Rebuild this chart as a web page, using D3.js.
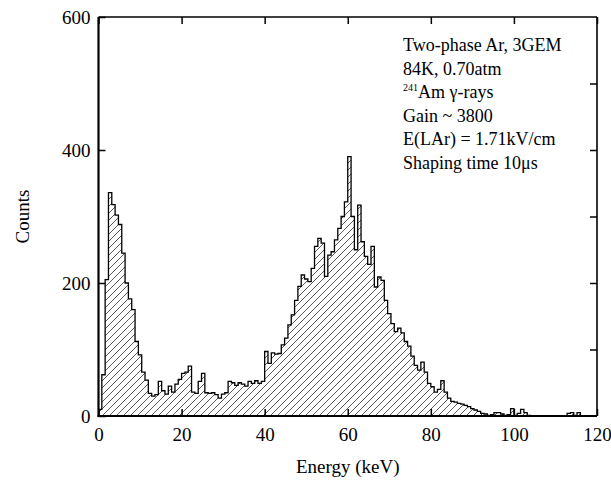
<!DOCTYPE html>
<html>
<head>
<meta charset="utf-8">
<script src="https://cdn.jsdelivr.net/npm/d3@7"></script>
<style>
  html, body { margin: 0; padding: 0; background: #fff; }
  svg { display: block; }
  text { font-family: "Liberation Serif", "DejaVu Serif", serif; fill: #000; }
</style>
</head>
<body>
<svg id="chart" width="611" height="480"></svg>
<script>
// Energy spectrum: counts per 0.8 keV bin, starting at 0 keV
const binStart = 0;
const binWidth = 0.8;
const counts = [
  10, 62, 205, 336, 318, 302, 288, 245, 200, 176,
  160, 112, 92, 66, 54, 34, 30, 32, 52, 38,
  33, 45, 36, 48, 55, 64, 66, 75, 36, 34,
  52, 64, 35, 34, 35, 32, 27, 33, 35, 52,
  50, 46, 50, 48, 45, 52, 49, 53, 49, 52,
  97, 79, 95, 93, 94, 107, 117, 137, 152, 174,
  195, 212, 206, 202, 222, 255, 267, 260, 210, 242,
  247, 265, 282, 300, 322, 390, 300, 250, 317, 262,
  240, 228, 255, 194, 209, 204, 174, 154, 139, 127,
  132, 125, 112, 105, 90, 76, 69, 81, 66, 49,
  44, 36, 40, 53, 36, 27, 22, 21, 19, 18,
  16, 14, 11, 9, 7, 4, 3, 1, 2, 5,
  5, 3, 1, 2, 11, 1, 4, 10, 5, 1,
  0, 0, 0, 0, 0, 0, 0, 0, 0, 0,
  0, 4, 5, 1, 5, 0, 0, 0, 0, 0
];

const xTicks = [0, 20, 40, 60, 80, 100, 120];
const yTicks = [0, 200, 400, 600];
const yRightTicks = [100, 200, 300, 400, 500];

const xLabel = "Energy (keV)";
const yLabel = "Counts";

const noteLines = [
  "Two-phase Ar, 3GEM",
  "84K, 0.70atm",
  "Am \u03b3-rays",
  "Gain ~ 3800",
  "E(LAr) = 1.71kV/cm",
  "Shaping time 10\u03bcs"
];
const isotopeMass = "241";

(function draw() {
  const svg = d3.select("#chart");
  const pL = 98.5, pR = 597, pT = 17, pB = 416;

  const x = d3.scaleLinear().domain([0, 120]).range([pL, pR]);
  const y = d3.scaleLinear().domain([0, 600]).range([pB, pT]);

  // diagonal hatch fill
  const defs = svg.append("defs");
  const pat = defs.append("pattern")
    .attr("id", "hatch")
    .attr("patternUnits", "userSpaceOnUse")
    .attr("width", 7).attr("height", 7);
  pat.append("path")
    .attr("d", "M-1,1 L1,-1 M0,7 L7,0 M6,8 L8,6")
    .attr("stroke", "#333").attr("stroke-width", 0.8);

  // step points at the left edge of every bin plus the closing edge
  const steps = counts.map((c, i) => [binStart + i * binWidth, c]);
  steps.push([binStart + counts.length * binWidth, counts[counts.length - 1]]);

  const area = d3.area()
    .x(d => x(d[0])).y0(y(0)).y1(d => y(d[1]))
    .curve(d3.curveStepAfter);
  const line = d3.line()
    .x(d => x(d[0])).y(d => y(d[1]))
    .curve(d3.curveStepAfter);

  svg.append("path").datum(steps)
    .attr("d", area)
    .attr("fill", "url(#hatch)");
  svg.append("path").datum(steps)
    .attr("d", line)
    .attr("fill", "none")
    .attr("stroke", "#000")
    .attr("stroke-width", 1.3);

  // axes with inward ticks
  const fontSize = 19;
  const gx = svg.append("g").attr("transform", `translate(0,${pB})`)
    .call(d3.axisBottom(x).tickValues(xTicks).tickSizeInner(-7).tickSizeOuter(0).tickPadding(11.5));
  const gy = svg.append("g").attr("transform", `translate(${pL},0)`)
    .call(d3.axisLeft(y).tickValues(yTicks).tickSizeInner(-7).tickSizeOuter(0).tickPadding(8));
  const gt = svg.append("g").attr("transform", `translate(0,${pT})`)
    .call(d3.axisTop(x).tickValues(xTicks).tickSizeInner(-7).tickSizeOuter(0).tickFormat(""));
  const gr = svg.append("g").attr("transform", `translate(${pR},0)`)
    .call(d3.axisRight(y).tickValues(yRightTicks).tickSizeInner(-7).tickSizeOuter(0).tickFormat(""));

  [gx, gy, gt, gr].forEach(g => {
    g.select(".domain").remove();
    g.selectAll(".tick line").attr("stroke", "#000").attr("stroke-width", 1.5);
    g.selectAll(".tick text")
      .attr("font-family", "Liberation Serif")
      .attr("font-size", fontSize)
      .attr("fill", "#000");
  });

  // frame
  svg.append("line").attr("x1", pL).attr("x2", pL).attr("y1", pT).attr("y2", pB + 1)
    .attr("stroke", "#000").attr("stroke-width", 2.2);
  svg.append("line").attr("x1", pL - 1).attr("x2", pR).attr("y1", pB).attr("y2", pB)
    .attr("stroke", "#000").attr("stroke-width", 2.2);
  svg.append("line").attr("x1", pL).attr("x2", pR).attr("y1", pT).attr("y2", pT)
    .attr("stroke", "#000").attr("stroke-width", 1.6);
  svg.append("line").attr("x1", pR).attr("x2", pR).attr("y1", pT).attr("y2", pB)
    .attr("stroke", "#000").attr("stroke-width", 1.6);

  // axis titles
  svg.append("text")
    .attr("x", (pL + pR) / 2).attr("y", 473)
    .attr("text-anchor", "middle")
    .attr("font-size", fontSize)
    .text(xLabel);
  svg.append("text")
    .attr("transform", `translate(29,${(pT + pB) / 2}) rotate(-90)`)
    .attr("text-anchor", "middle")
    .attr("font-size", fontSize)
    .text(yLabel);

  // run conditions
  const noteX = 403, noteY0 = 51, noteDy = 23.5;
  const notes = svg.append("g");
  noteLines.forEach((t, i) => {
    const tx = notes.append("text")
      .attr("x", noteX).attr("y", noteY0 + i * noteDy)
      .attr("font-size", 18);
    if (i === 2) {
      tx.append("tspan").attr("font-size", 10).attr("dy", -7).text(isotopeMass);
      tx.append("tspan").attr("dy", 7).text(t);
    } else {
      tx.text(t);
    }
  });
})();
</script>
</body>
</html>
